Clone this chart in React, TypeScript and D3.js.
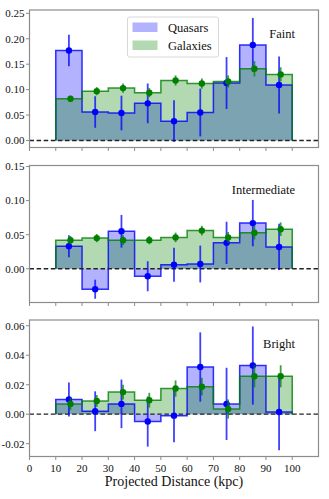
import React from 'react';
import * as d3 from 'd3';

// bin edges (kpc) and axis ticks
const binEdges = [10, 20, 30, 40, 50, 60, 70, 80, 90, 100];
const xTicks = [0, 10, 20, 30, 40, 50, 60, 70, 80, 90, 100];

// Faint
const faintQuasar = [0.177, 0.056, 0.054, 0.073, 0.038, 0.055, 0.113, 0.188, 0.109];
const faintQuasarErr = [0.031, 0.031, 0.034, 0.039, 0.041, 0.047, 0.051, 0.053, 0.056];
const faintGalaxy = [0.082, 0.097, 0.103, 0.094, 0.118, 0.112, 0.116, 0.141, 0.130];
const faintGalaxyErr = [0.006, 0.008, 0.009, 0.009, 0.010, 0.010, 0.012, 0.015, 0.014];
const faintTicks = [0, 0.05, 0.1, 0.15, 0.2, 0.25];

// Intermediate
const interQuasar = [0.033, -0.030, 0.055, -0.011, 0.006, 0.007, 0.038, 0.067, 0.032];
const interQuasarErr = [0.016, 0.014, 0.024, 0.022, 0.025, 0.027, 0.031, 0.034, 0.034];
const interGalaxy = [0.042, 0.045, 0.042, 0.042, 0.046, 0.056, 0.046, 0.053, 0.058];
const interGalaxyErr = [0.006, 0.006, 0.007, 0.006, 0.007, 0.007, 0.008, 0.010, 0.010];
const interTicks = [0, 0.05, 0.1, 0.15];

// Bright
const brightQuasar = [0.010, 0.002, 0.007, -0.005, -0.001, 0.032, 0.007, 0.033, 0.0015];
const brightQuasarErr = [0.0115, 0.0135, 0.0165, 0.017, 0.018, 0.0235, 0.0245, 0.0265, 0.026];
const brightGalaxy = [0.007, 0.009, 0.015, 0.0095, 0.0174, 0.0187, 0.0035, 0.0257, 0.0257];
const brightGalaxyErr = [0.004, 0.004, 0.005, 0.005, 0.0055, 0.006, 0.0065, 0.0075, 0.0075];
const brightTicks = [-0.02, 0, 0.02, 0.04, 0.06];

const FONT = '"Liberation Serif", "DejaVu Serif", serif';
const BLUE = '#0000ff';
const GREEN = '#008000';
const SPINE = '#8c8c8c';

const left = 29.5;
const right = 318.5;
const x = d3.scaleLinear().domain([0, 110]).range([left, right]);

type PanelProps = {
  top: number;
  bottom: number;
  yDomain: [number, number];
  ticks: number[];
  tickFmt: (v: number) => string;
  quasar: number[];
  quasarErr: number[];
  galaxy: number[];
  galaxyErr: number[];
  label: string;
  showXLabels?: boolean;
  legend?: boolean;
};

function stepPoints(vals: number[]): [number, number][] {
  const pts: [number, number][] = vals.map((v, i) => [binEdges[i], v]);
  pts.push([binEdges[binEdges.length - 1], vals[vals.length - 1]]);
  return pts;
}

const Panel = (p: PanelProps) => {
  const y = d3.scaleLinear().domain(p.yDomain).range([p.bottom, p.top]);
  const area = d3.area<[number, number]>()
    .x(d => x(d[0]))
    .y0(y(0))
    .y1(d => y(d[1]))
    .curve(d3.curveStepAfter);
  const line = d3.line<[number, number]>()
    .x(d => x(d[0]))
    .y(d => y(d[1]))
    .curve(d3.curveStepAfter);

  const outline = (vals: number[]) => {
    const pts = stepPoints(vals);
    const first: [number, number] = [binEdges[0], 0];
    const last: [number, number] = [binEdges[binEdges.length - 1], 0];
    return line([first, ...pts, last]) as string;
  };

  const centers = binEdges.slice(0, -1).map(e => e + 5);

  const errorbars = (vals: number[], errs: number[], color: string, dx: number) => (
    <g>
      {vals.map((v, i) => (
        <g key={i}>
          <line x1={x(centers[i] + dx)} x2={x(centers[i] + dx)} y1={y(v - errs[i])} y2={y(v + errs[i])}
            stroke={color} strokeWidth={1.8} strokeOpacity={0.75} />
          <circle cx={x(centers[i] + dx)} cy={y(v)} r={3.2} fill={color} />
        </g>
      ))}
    </g>
  );

  return (
    <g>
      <path d={area(stepPoints(p.quasar)) as string} fill={BLUE} fillOpacity={0.3} />
      <path d={area(stepPoints(p.galaxy)) as string} fill={GREEN} fillOpacity={0.3} />
      <path d={outline(p.quasar)} fill="none" stroke={BLUE} strokeWidth={1.5} strokeOpacity={0.8} />
      <path d={outline(p.galaxy)} fill="none" stroke={GREEN} strokeWidth={1.5} strokeOpacity={0.8} />
      <line x1={left} x2={right} y1={y(0)} y2={y(0)} stroke="#222" strokeWidth={1.3} strokeDasharray="4.5,2.6" />
      {errorbars(p.quasar, p.quasarErr, BLUE, 0)}
      {errorbars(p.galaxy, p.galaxyErr, GREEN, 0.6)}

      <rect x={left} y={p.top} width={right - left} height={p.bottom - p.top} fill="none" stroke={SPINE} strokeWidth={1.2} />

      {p.ticks.map(t => (
        <g key={t}>
          <line x1={left - 3.5} x2={left} y1={y(t)} y2={y(t)} stroke={SPINE} strokeWidth={1} />
          <text x={left - 5} y={y(t)} dy="0.35em" textAnchor="end" fontSize={11} fontFamily={FONT} fill="#111">
            {p.tickFmt(t)}
          </text>
        </g>
      ))}

      {xTicks.map(t => (
        <g key={t}>
          <line x1={x(t)} x2={x(t)} y1={p.bottom} y2={p.bottom + 3.5} stroke={SPINE} strokeWidth={1} />
          {p.showXLabels && (
            <text x={x(t)} y={p.bottom + 15} textAnchor="middle" fontSize={11} fontFamily={FONT} fill="#111">
              {t}
            </text>
          )}
        </g>
      ))}

      <text x={295} y={p.top + 28} textAnchor="end" fontSize={12.5} fontFamily={FONT} fill="#111">
        {p.label}
      </text>

      {p.legend && (
        <g>
          <rect x={127.5} y={17} width={91} height={40} rx={2} fill="#fff" fillOpacity={0.85} stroke="#d8d8d8" strokeWidth={1} />
          <rect x={132.5} y={22.5} width={25} height={9.5} fill={BLUE} fillOpacity={0.3} />
          <rect x={132.5} y={40.5} width={25} height={9.5} fill={GREEN} fillOpacity={0.3} />
          <text x={168} y={31.5} fontSize={12.5} fontFamily={FONT} fill="#111">Quasars</text>
          <text x={168} y={49.5} fontSize={12.5} fontFamily={FONT} fill="#111">Galaxies</text>
        </g>
      )}
    </g>
  );
};

const fmt2 = d3.format('.2f');
const tickFmt = (v: number) => fmt2(v).replace('\u2212', '-');

export default function App() {
  return (
    <svg width={329} height={499} style={{ position: 'absolute', left: 0, top: 0, background: '#fff' }}>
      <Panel top={10} bottom={147.5} yDomain={[-0.0138, 0.2566]} ticks={faintTicks} tickFmt={tickFmt}
        quasar={faintQuasar} quasarErr={faintQuasarErr} galaxy={faintGalaxy} galaxyErr={faintGalaxyErr}
        label="Faint" legend />
      <Panel top={165.5} bottom={302.5} yDomain={[-0.0495, 0.1515]} ticks={interTicks} tickFmt={tickFmt}
        quasar={interQuasar} quasarErr={interQuasarErr} galaxy={interGalaxy} galaxyErr={interGalaxyErr}
        label="Intermediate" />
      <Panel top={320} bottom={456.5} yDomain={[-0.0287, 0.0639]} ticks={brightTicks} tickFmt={tickFmt}
        quasar={brightQuasar} quasarErr={brightQuasarErr} galaxy={brightGalaxy} galaxyErr={brightGalaxyErr}
        label="Bright" showXLabels />
      <text x={174} y={486} textAnchor="middle" fontSize={14} fontFamily={FONT} fill="#111">
        Projected Distance (kpc)
      </text>
    </svg>
  );
}
